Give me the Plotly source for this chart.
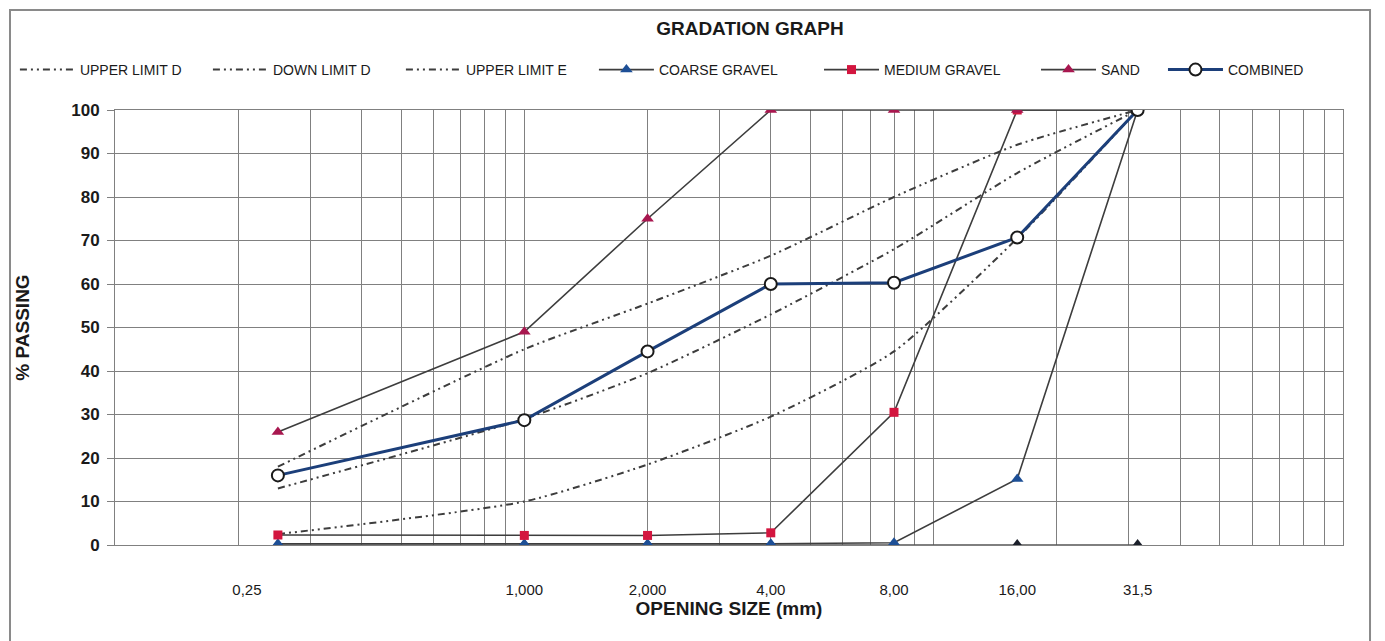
import plotly.graph_objects as go

# ---------------- data ----------------
sizes_mm = [0.25, 1.0, 2.0, 4.0, 8.0, 16.0, 31.5]

upper_limit_d = [18, 45, 55.5, 66.5, 80, 92, 100]
down_limit_d = [2.5, 10, 18.5, 29.5, 44.5, 70.5, 100]
upper_limit_e = [13, 29, 39.5, 53, 68, 85.5, 100]

coarse_gravel = [0.3, 0.3, 0.3, 0.3, 0.5, 15.2, 100]
medium_gravel = [2.3, 2.2, 2.2, 2.8, 30.5, 100, 100]
sand = [26, 49, 75, 100, 100, 100, 100]
combined = [16, 28.7, 44.5, 60, 60.3, 70.7, 100]
base_zero = [0, 0, 0, 0, 0, 0, 0]

tick_vals = [0.21, 1.0, 2.0, 4.0, 8.0, 16.0, 31.5]
tick_text = ["0,25", "1,000", "2,000", "4,00", "8,00", "16,00", "31,5"]

# ---------------- style ----------------
FONT = "Liberation Sans, Arial, sans-serif"
NARROW = "Liberation Sans Narrow, Liberation Sans, Arial, sans-serif"
LINE_GRAY = "#3d3d3d"
GRID = "#808080"
DASH = "7px,4px,2px,4px,2px,4px"
TXT = "#1a1a1a"

fig = go.Figure()

for name, vals in [("UPPER LIMIT D", upper_limit_d),
                   ("DOWN LIMIT D", down_limit_d),
                   ("UPPER LIMIT E", upper_limit_e)]:
    fig.add_trace(go.Scatter(
        x=sizes_mm, y=vals, name=name, mode="lines",
        line=dict(color=LINE_GRAY, width=2, dash=DASH, shape="spline", smoothing=0.6),
        legend="legend"))

fig.add_trace(go.Scatter(
    x=sizes_mm, y=base_zero, name="zero", mode="lines+markers", showlegend=False,
    line=dict(color="#555555", width=1.5),
    marker=dict(symbol="triangle-up", size=12, color="#1b1f2a")))

fig.add_trace(go.Scatter(
    x=sizes_mm, y=coarse_gravel, name="COARSE GRAVEL", mode="lines+markers",
    line=dict(color=LINE_GRAY, width=1.6),
    marker=dict(symbol="triangle-up", size=11, color="#1d4f96"),
    legend="legend"))

fig.add_trace(go.Scatter(
    x=sizes_mm, y=medium_gravel, name="MEDIUM GRAVEL", mode="lines+markers",
    line=dict(color=LINE_GRAY, width=1.6),
    marker=dict(symbol="square", size=9, color="#d3163f"),
    legend="legend2"))

fig.add_trace(go.Scatter(
    x=sizes_mm, y=sand, name="SAND", mode="lines+markers",
    line=dict(color=LINE_GRAY, width=1.6),
    marker=dict(symbol="triangle-up", size=11, color="#a8174f"),
    legend="legend2"))

fig.add_trace(go.Scatter(
    x=sizes_mm, y=combined, name="COMBINED", mode="lines+markers",
    line=dict(color="#1c3f7a", width=3),
    marker=dict(symbol="circle", size=12, color="white",
                line=dict(color="#1a1a1a", width=2)),
    legend="legend3"))

minor_vals = [m * 10 ** e for e in (-1, 0, 1) for m in range(1, 10)] + [100]

legend_common = dict(orientation="h", yanchor="middle", xanchor="left",
                     y=1.092, itemwidth=55, bgcolor="rgba(0,0,0,0)",
                     font=dict(family=NARROW, size=14, color=TXT),
                     traceorder="normal", entrywidthmode="pixels")

fig.update_layout(
    width=1385, height=641,
    margin=dict(l=107, r=50, t=102, b=104, autoexpand=False),
    paper_bgcolor="white", plot_bgcolor="white",
    font=dict(family=FONT, color=TXT),
    title=dict(text="<b>GRADATION GRAPH</b>", x=0.5357, xanchor="center",
               y=0.969, yanchor="middle", font=dict(size=19, family=FONT, color=TXT)),
    xaxis=dict(type="log", range=[-1, 2], tickmode="array",
               tickvals=tick_vals, ticktext=tick_text, showgrid=False,
               ticks="outside", ticklen=31, tickcolor="rgba(0,0,0,0)",
               tickfont=dict(size=15, family=FONT, color=TXT),
               showline=True, linecolor=GRID, mirror=True, zeroline=False,
               minor=dict(tickmode="array", tickvals=minor_vals, showgrid=True,
                          gridcolor=GRID, gridwidth=1.3, ticks=""),
               title=dict(text="<b>OPENING SIZE (mm)</b>", standoff=3,
                          font=dict(size=19, family=FONT, color=TXT))),
    yaxis=dict(range=[0, 100], dtick=10, showgrid=True, gridcolor=GRID,
               gridwidth=1.3, ticks="outside", ticklen=7, tickcolor=GRID,
               ticklabelstandoff=4,
               tickfont=dict(size=17, family=FONT, color=TXT, weight="bold"),
               showline=True, linecolor=GRID, mirror=True, zeroline=False,
               title=dict(text="<b>% PASSING</b>", standoff=36,
                          font=dict(size=19, family=FONT, color=TXT))),
    legend=dict(x=-0.0815, entrywidth=123, **legend_common),
    legend2=dict(x=0.5733, entrywidth=147, **legend_common),
    legend3=dict(x=0.8534, entrywidth=150, **legend_common),
    shapes=[dict(type="rect", xref="paper", yref="paper",
                 x0=-0.0855, x1=1.022, y0=-0.25, y1=1.2298,
                 line=dict(color="#8a8a8a", width=2), layer="below")],
)

fig.write_html("out.html")
